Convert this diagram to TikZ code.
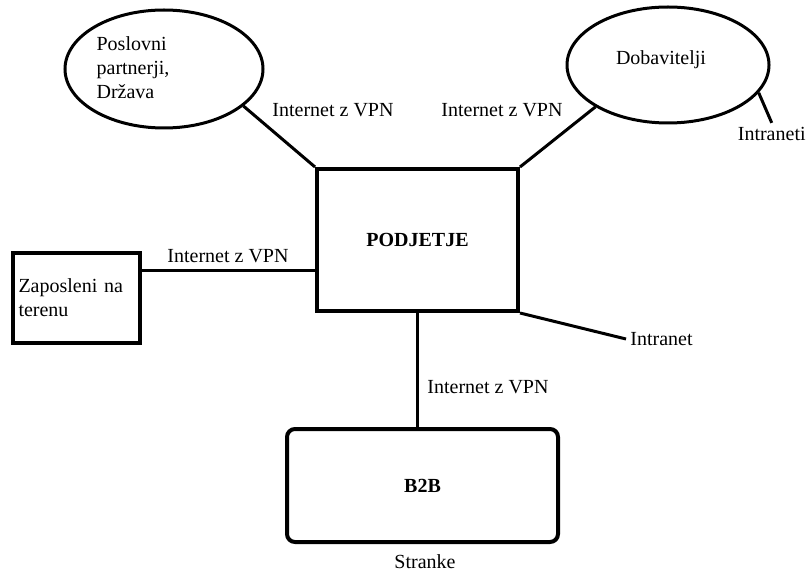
\documentclass[tikz,border=0pt]{standalone}
\usepackage{fontspec}
\setmainfont{Liberation Serif}
\usetikzlibrary{shapes.geometric}

\begin{document}
\begin{tikzpicture}[
        x=0.5pt, y=-0.5pt,
        party/.style={ellipse, draw, line width=1.5pt, inner sep=0pt},
        unit/.style={rectangle, draw, line width=2pt, font=\bfseries},
        link/.style={line width=1.5pt},
        link_label/.style={font=\normalsize, inner sep=0pt}
    ]
        \useasboundingbox (0,0) rectangle (807,572);

        % Partners and suppliers
        \node[party, minimum width=99pt, minimum height=59pt] (partners) at (164,69) {};
        \node[align=left, inner sep=0pt] (partners_text) at (133,68) {Poslovni\\partnerji,\\Država};
        \node[party, minimum width=101pt, minimum height=58pt] (suppliers) at (668,65) {};
        \node[inner sep=0pt] (suppliers_text) at (661,60) {Dobavitelji};

        % Company in the middle
        \node[unit, minimum width=100.5pt, minimum height=71pt] (company) at (417.5,240) {PODJETJE};

        % Field staff
        \node[rectangle, draw, line width=2pt, minimum width=63.5pt, minimum height=45pt,
              text width=58pt, align=left, inner sep=2.5pt] (field) at (76.5,298)
              {\raisebox{-3pt}{Zaposleni na}\\\raisebox{-3pt}{terenu}};

        % B2B
        \node[unit, rounded corners=4pt, minimum width=135.5pt, minimum height=56.5pt] (b2b) at (422.5,485.5) {B2B};
        \node[inner sep=0pt] (customers) at (425,562) {Stranke};

        % Free ends
        \node[link_label, anchor=east, inner ysep=2pt] (intraneti) at (806,134) {Intraneti};
        \node[link_label, anchor=west, inner xsep=2pt] (intranet) at (626,339) {Intranet};

        % Links
        \draw[link] (partners.-25) -- (company.north west);
        \draw[link] (suppliers.-150) -- (company.north east);
        \draw[link] (suppliers.-17) -- (intraneti.north);
        \draw[link] (field.23) -- (field.23 -| company.west);
        \draw[link] (company.south) -- (company.south |- b2b.north);
        \draw[link] (company.south east) -- (intranet.west);

        % Labels
        \node[link_label] at (333,110) {Internet z VPN};
        \node[link_label] at (502,110) {Internet z VPN};
        \node[link_label] at (228,256) {Internet z VPN};
        \node[link_label] at (488,387) {Internet z VPN};

    \end{tikzpicture}
\end{document}
